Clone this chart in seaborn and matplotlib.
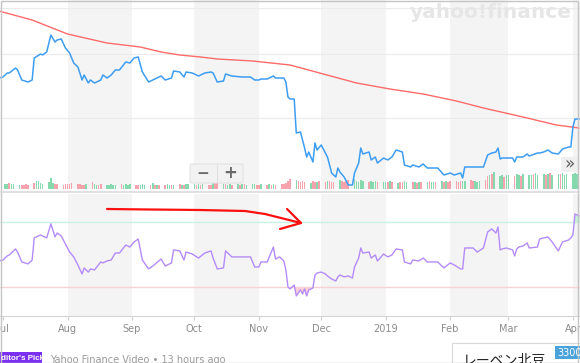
import matplotlib
matplotlib.use('Agg')
import matplotlib.pyplot as plt
import matplotlib.dates as mdates
from matplotlib.patches import FancyBboxPatch, Rectangle
from matplotlib.lines import Line2D
import numpy as np
import pandas as pd
import seaborn as sns

# ---- data ----
price_dates = [
    '2018-06-29', '2018-07-01', '2018-07-03', '2018-07-04', '2018-07-07', '2018-07-08', '2018-07-10', '2018-07-13', '2018-07-15',
    '2018-07-16', '2018-07-19', '2018-07-20', '2018-07-22', '2018-07-24', '2018-07-26', '2018-07-27', '2018-07-29', '2018-07-31',
    '2018-08-02', '2018-08-04', '2018-08-06', '2018-08-08', '2018-08-09', '2018-08-11', '2018-08-12', '2018-08-14',
    '2018-08-17', '2018-08-18', '2018-08-20', '2018-08-22', '2018-08-24', '2018-08-26', '2018-08-29', '2018-08-31',
    '2018-09-02', '2018-09-04', '2018-09-06', '2018-09-09', '2018-09-11', '2018-09-15', '2018-09-17', '2018-09-20',
    '2018-09-21', '2018-09-24', '2018-09-26', '2018-09-27', '2018-09-30',
    '2018-10-03', '2018-10-06', '2018-10-09', '2018-10-10', '2018-10-12', '2018-10-15', '2018-10-16', '2018-10-19',
    '2018-10-24', '2018-10-28', '2018-10-30',
    '2018-11-01', '2018-11-02', '2018-11-05', '2018-11-08', '2018-11-09', '2018-11-11', '2018-11-13', '2018-11-14',
    '2018-11-15', '2018-11-16', '2018-11-18', '2018-11-19', '2018-11-21', '2018-11-22', '2018-11-23', '2018-11-24',
    '2018-11-25', '2018-11-27', '2018-11-28', '2018-11-29',
    '2018-12-01', '2018-12-03', '2018-12-04', '2018-12-06', '2018-12-08', '2018-12-09', '2018-12-10', '2018-12-12',
    '2018-12-14', '2018-12-16', '2018-12-17', '2018-12-19', '2018-12-20', '2018-12-21', '2018-12-24', '2018-12-25',
    '2018-12-27', '2018-12-28', '2018-12-31',
    '2019-01-02', '2019-01-04', '2019-01-06', '2019-01-09', '2019-01-10', '2019-01-13', '2019-01-14', '2019-01-17',
    '2019-01-19', '2019-01-21', '2019-01-24', '2019-01-26', '2019-01-29',
    '2019-02-01', '2019-02-03', '2019-02-06', '2019-02-07', '2019-02-08', '2019-02-12', '2019-02-14', '2019-02-17',
    '2019-02-19', '2019-02-21', '2019-02-23', '2019-02-24', '2019-02-25', '2019-02-26', '2019-02-28',
    '2019-03-03', '2019-03-04', '2019-03-05', '2019-03-06', '2019-03-08', '2019-03-10', '2019-03-11', '2019-03-15',
    '2019-03-16', '2019-03-18', '2019-03-20', '2019-03-22', '2019-03-25', '2019-03-27', '2019-03-30', '2019-03-31',
    '2019-04-01', '2019-04-02', '2019-04-04',
]
close_price = [
    3220, 3230, 3270, 3270, 3320, 3300, 3200, 3180, 3200,
    3420, 3460, 3450, 3480, 3650, 3580, 3600, 3610, 3520,
    3470, 3370, 3330, 3200, 3250, 3170, 3200, 3170,
    3200, 3250, 3220, 3250, 3300, 3300, 3380, 3370,
    3420, 3430, 3280, 3180, 3200, 3240, 3200, 3220,
    3290, 3280, 3230, 3280, 3270,
    3240, 3270, 3280, 3270, 3180, 3190, 3260, 3240,
    3230, 3230, 3200,
    3200, 3210, 3210, 3240, 3220, 3220, 3220, 3180,
    3030, 3010, 3010, 2670, 2680, 2600, 2520, 2430,
    2480, 2380, 2570, 2500,
    2550, 2470, 2430, 2270, 2230, 2320, 2280, 2230,
    2150, 2150, 2270, 2370, 2520, 2460, 2480, 2400,
    2430, 2370, 2420,
    2400, 2430, 2500, 2480, 2350, 2330, 2350, 2330,
    2360, 2320, 2320, 2320, 2250,
    2270, 2250, 2270, 2220, 2330, 2330, 2330, 2330,
    2450, 2470, 2480, 2520, 2410, 2420, 2420,
    2420, 2380, 2430, 2430, 2430, 2460, 2440, 2470,
    2470, 2480, 2500, 2470, 2460, 2510, 2530, 2530,
    2730, 2810, 2810,
]
rsi_values = [
    46.0, 46.6, 49.1, 49.7, 53.4, 51.5, 45.4, 44.2, 46.6,
    60.2, 62.0, 61.4, 60.2, 68.8, 60.8, 63.2, 61.4, 56.5,
    51.5, 48.5, 43.5, 38.0, 41.7, 39.2, 41.1, 40.5,
    45.4, 44.8, 46.0, 46.6, 50.9, 50.9, 55.8, 54.6,
    57.7, 59.5, 46.6, 41.1, 42.9, 47.2, 42.9, 44.8,
    52.8, 52.2, 46.6, 51.5, 50.3,
    47.8, 50.9, 52.2, 47.8, 41.1, 41.7, 52.2, 48.5,
    48.5, 48.5, 42.3,
    42.3, 45.4, 45.4, 54.6, 47.2, 48.5, 46.0, 40.5,
    30.0, 28.8, 31.2, 24.5, 28.2, 25.7, 28.8, 24.5,
    28.2, 29.4, 37.4, 38.6,
    39.2, 38.0, 36.8, 34.9, 33.7, 36.2, 37.4, 36.2,
    36.8, 35.5, 42.3, 47.8, 54.0, 50.9, 51.5, 47.8,
    49.7, 46.0, 50.3,
    48.5, 49.7, 53.4, 52.8, 45.4, 44.2, 46.6, 46.0,
    47.8, 45.4, 45.4, 45.4, 41.7,
    44.8, 43.5, 41.1, 41.1, 54.0, 54.0, 51.5, 54.0,
    63.8, 65.7, 63.2, 66.9, 52.8, 53.4, 54.0,
    52.8, 49.1, 53.4, 54.6, 55.2, 57.1, 54.0, 54.6,
    59.5, 60.2, 60.8, 57.7, 52.2, 57.7, 58.9, 60.2,
    62.0, 74.9, 73.7,
]

ma_dates = ['2018-06-29', '2018-07-15', '2018-08-01', '2018-08-20', '2018-09-05', '2018-09-15', '2018-09-24',
            '2018-10-04', '2018-10-12', '2018-10-29', '2018-11-16', '2018-12-02', '2018-12-18', '2019-01-03',
            '2019-01-19', '2019-02-04', '2019-02-17', '2019-03-08', '2019-03-24', '2019-04-04']
ma_values = [3890, 3800, 3660, 3570, 3530, 3480, 3450, 3430, 3410, 3390, 3350, 3260, 3170, 3110,
             3060, 2990, 2920, 2830, 2750, 2720]

# daily volume (10k shares), one list per month of trading days
volume_by_month = [
    [5, 5, 6, 5, 5, 4, 4, 4, 5, 4, 6, 8, 8, 6, 5, 7, 11, 6, 5, 5, 4, 5],
    [5, 5, 6, 5, 5, 4, 4, 5, 7, 5, 4, 4, 5, 4, 4, 5, 4, 4, 5, 4, 5, 4, 5],
    [4, 4, 4, 5, 4, 4, 6, 4, 4, 4, 4, 5, 4, 4, 4, 5, 4, 4, 5, 5],
    [5, 4, 5, 4, 5, 4, 4, 8, 6, 9, 5, 5, 4, 5, 4, 5, 4, 5, 5, 4, 5, 5, 4],
    [4, 5, 4, 5, 4, 5, 4, 5, 5, 6, 8, 10, 9, 8, 7, 8, 7, 6, 8, 7, 7, 8],
    [7, 8, 8, 7, 7, 9, 8, 7, 8, 9, 10, 8, 7, 9, 8, 7, 8, 7, 8, 7, 7],
    [7, 7, 8, 7, 6, 7, 7, 8, 7, 7, 7, 6, 7, 7, 7, 8, 7, 7, 7, 8, 7, 8, 7],
    [8, 8, 7, 8, 8, 8, 9, 8, 8, 7, 8, 9, 13, 14, 15, 17, 13, 14, 12, 14],
    [14, 13, 15, 14, 13, 15, 14, 14, 15, 16, 14, 15, 14, 15, 16, 14, 15, 15, 16, 14, 15],
    [15, 16, 15],
]
# up (g) / down (r) day per trading day
volume_dir = ("ggrgggrrrrrgggggggrrrr" "rrrrrrrgrggrrgggggrgggg" "rrgggrgrgrrggrgrgrgg"
              "grgrgrrgrrgrggrgrgrgggr" "rgrgrgrrrrrrgrrrrgrrgr" "rgrrrgrrrrgggggrgggrg"
              "grgrgrrggrgrgrgrggrgrgr" "rrrrggrrgggrrgrgggrg" "grggrgggrgggrgrggrggg" "ggg")

month_ticks = ['2018-07-01', '2018-08-01', '2018-09-01', '2018-10-01', '2018-11-01', '2018-12-01',
               '2019-01-01', '2019-02-01', '2019-03-01', '2019-04-01']
month_labels = ['Jul', 'Aug', 'Sep', 'Oct', 'Nov', 'Dec', '2019', 'Feb', 'Mar', 'Apr']
shaded_months = [('2018-08-01', '2018-09-01'), ('2018-10-01', '2018-11-01'), ('2018-12-01', '2019-01-01'),
                 ('2019-02-01', '2019-03-01'), ('2019-04-01', '2019-05-01')]
price_grid = [3920, 3460, 2820]

# ---- figure ----
sns.set_style('white')
plt.rcParams['font.family'] = ['DejaVu Sans', 'Noto Sans CJK JP']

W, H = 580, 363
fig = plt.figure(figsize=(W / 100, H / 100), dpi=100)


def fx(x):
    return x / W


def fy(y):
    return 1 - y / H


ax_vol = fig.add_axes([0, fy(189), 1, 189 / H])
ax_price = fig.add_axes([0, fy(189), 1, 189 / H], sharex=ax_vol)
ax_rsi = fig.add_axes([0, fy(316), 1, 122 / H], sharex=ax_vol)
ax_price.patch.set_visible(False)

pdates = pd.to_datetime(price_dates)
rsi = np.array(rsi_values)
vol_dates = pd.bdate_range('2018-07-02', '2019-04-03')
volumes = [v for month in volume_by_month for v in month]
n = min(len(vol_dates), len(volumes), len(volume_dir))
bar_colors = ['#86d9ad' if c == 'g' else '#f7a3ae' for c in volume_dir[:n]]

for a, b in shaded_months:
    for ax in (ax_vol, ax_rsi):
        ax.axvspan(pd.Timestamp(a), pd.Timestamp(b), color='#f4f4f4', lw=0, zorder=0)

ax_vol.bar(vol_dates[:n], volumes[:n], width=0.75, color=bar_colors, lw=0, zorder=2)
ax_vol.set_ylim(0, 189)

for g in price_grid:
    ax_price.axhline(g, color='#ebebeb', lw=0.8, zorder=1)
sns.lineplot(x=pd.to_datetime(ma_dates), y=ma_values, ax=ax_price, color='#ff6a6a', lw=1.0,
             estimator=None, sort=False, zorder=3)
sns.lineplot(x=pdates, y=close_price, ax=ax_price, color='#3d9df3', lw=1.1,
             estimator=None, sort=False, zorder=4)
ax_price.set_ylim(2110, 4000)

# RSI panel
ax_rsi.axhline(70, color='#c8f1e2', lw=1.0, zorder=1)
ax_rsi.axhline(30, color='#f9d3d3', lw=1.0, zorder=1)
rx = mdates.date2num(pdates)
ax_rsi.fill_between(rx, rsi, 30, where=rsi < 30, interpolate=True, color='#fbd0d7', lw=0, zorder=2)
ax_rsi.fill_between(rx, rsi, 70, where=rsi > 70, interpolate=True, color='#c4f0d9', lw=0, zorder=2)
sns.lineplot(x=pdates, y=rsi, ax=ax_rsi, color='#b48bfa', lw=1.0, estimator=None, sort=False, zorder=3)
ax_rsi.set_ylim(12.15, 87.2)

ax_rsi.set_xlim(pd.Timestamp('2018-06-29 13:00'), pd.Timestamp('2019-04-04 10:00'))
ax_rsi.set_xticks(pd.to_datetime(month_ticks))
ax_rsi.set_xticklabels(month_labels)

for ax in (ax_vol, ax_price, ax_rsi):
    ax.set_xlabel('')
    ax.set_ylabel('')
    ax.set_yticks([])
    for s in ax.spines.values():
        s.set_visible(False)
for ax in (ax_vol, ax_price):
    ax.tick_params(axis='x', bottom=False, labelbottom=False)
ax_rsi.spines['bottom'].set_visible(True)
ax_rsi.spines['bottom'].set_color('#d4d4d4')
ax_rsi.tick_params(axis='x', bottom=True, length=3, width=0.8, color='#cfcfcf',
                   labelsize=7, labelcolor='#8c8c8c', pad=3)

# separator between panels
fig.add_artist(Line2D([0, 1], [fy(192), fy(192)], color='#dadada', lw=1.2))

# yahoo finance watermark
fig.text(fx(410), fy(13), 'yahoo!finance', fontsize=14.5, fontweight='bold', color='#e6e6e6',
         ha='left', va='center')

# zoom buttons
fig.add_artist(FancyBboxPatch((fx(190), fy(183)), fx(53), 19 / H,
                              boxstyle='round,pad=0,rounding_size=0.004', fc='#f2f2f2', ec='#e2e2e2', lw=0.8))
fig.add_artist(Line2D([fx(217), fx(217)], [fy(182), fy(165)], color='#e0e0e0', lw=0.8))
fig.text(fx(203), fy(173.5), '\u2212', fontsize=11, fontweight='bold', color='#6a6a6a', ha='center', va='center')
fig.text(fx(230.5), fy(173.5), '+', fontsize=12, fontweight='bold', color='#6a6a6a', ha='center', va='center')
fig.add_artist(Rectangle((fx(561), fy(172)), fx(17), 15 / H, fc='#efefef', ec='none'))
fig.text(fx(569.5), fy(164.5), '\u00bb', fontsize=12, color='#5a5a5a', ha='center', va='center')

# hand-drawn red arrow
arrow_x = [107, 150, 200, 245, 265, 285, 301]
arrow_y = [209, 209.5, 210, 211, 214, 219, 223]
fig.add_artist(Line2D([fx(v) for v in arrow_x], [fy(v) for v in arrow_y], color='#ff1010', lw=1.6,
                      solid_capstyle='round'))
fig.add_artist(Line2D([fx(287), fx(301), fx(280)], [fy(209), fy(223), fy(229)], color='#ff1010', lw=1.6,
                      solid_capstyle='round', solid_joinstyle='round'))

# footer
fig.add_artist(Rectangle((0, 0), fx(42), 11 / H, fc='#7b2ff0', ec='none'))
fig.text(fx(1), fy(359), "ditor's Pick", fontsize=5.8, fontweight='bold', color='white',
         family=['Liberation Sans', 'DejaVu Sans'], ha='left', va='center')
fig.text(fx(50), fy(360), 'Yahoo Finance Video \u2022 13 hours ago', fontsize=7, color='#9a9a9a',
         ha='left', va='center')
fig.add_artist(Rectangle((fx(452), 0), fx(130), 20 / H, fc='white', ec='#d8d8d8', lw=0.8))
fig.text(fx(463), fy(361), 'レーベン北豆', fontsize=10, color='#222222', ha='left', va='center')
fig.add_artist(Rectangle((fx(555), fy(359)), fx(30), 13 / H, fc='#4ba3dc', ec='none'))
fig.text(fx(557), fy(352.5), '3300万', fontsize=7, color='white', ha='left', va='center')

# screenshot frame
fig.add_artist(Rectangle((0.5 / W, 0.5 / H), 577 / W, 362 / H, fill=False, ec='#c4c4c4', lw=1.0))

fig.savefig('out.png', dpi=100)
